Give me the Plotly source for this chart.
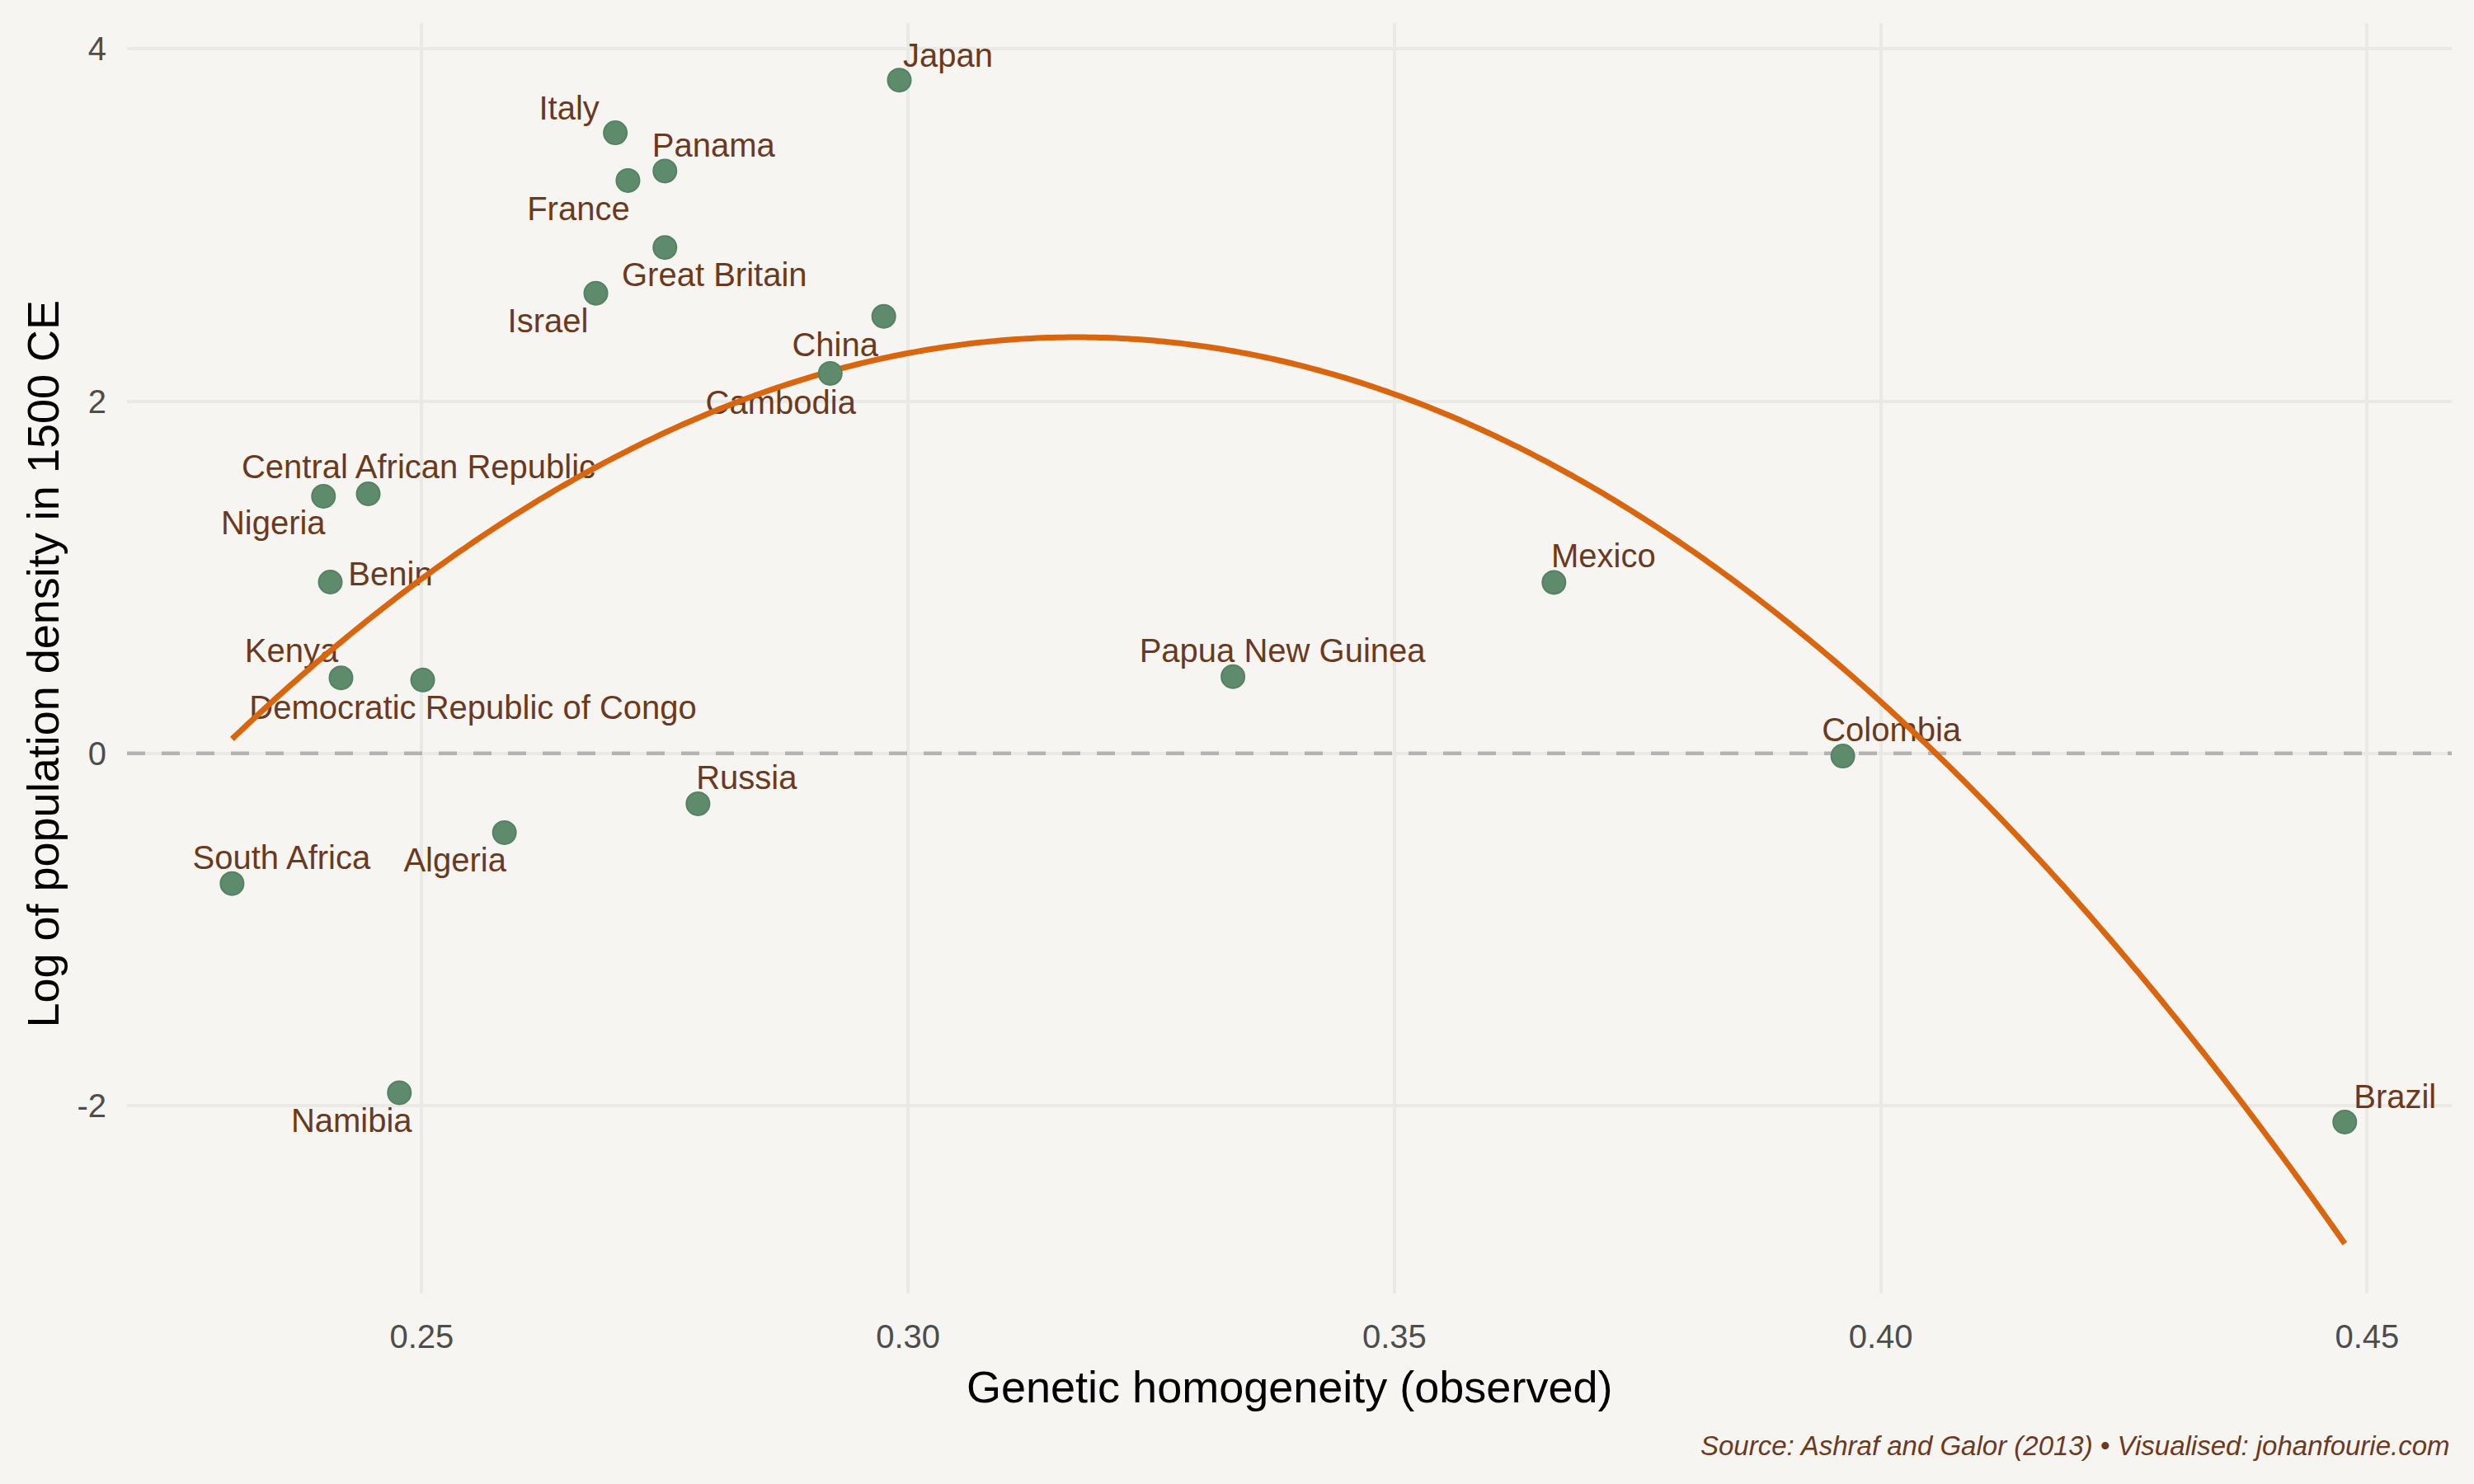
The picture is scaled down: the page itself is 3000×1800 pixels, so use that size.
import numpy as np
import plotly.graph_objects as go

# ---------------- data ----------------
countries = ["Japan", "Italy", "Panama", "France", "Great Britain", "Israel",
             "China", "Cambodia", "Central African Republic", "Nigeria", "Benin",
             "Kenya", "Democratic Republic of Congo", "Russia", "South Africa",
             "Algeria", "Namibia", "Papua New Guinea", "Mexico", "Colombia", "Brazil"]
homogeneity = [0.2991, 0.2699, 0.2750, 0.2712, 0.2750, 0.2679,
               0.2975, 0.2920, 0.2445, 0.2399, 0.2406,
               0.2417, 0.2501, 0.2784, 0.2305,
               0.2585, 0.2477, 0.3334, 0.3664, 0.3961, 0.4477]
log_density = [3.823, 3.524, 3.307, 3.253, 2.873, 2.613,
               2.482, 2.158, 1.474, 1.460, 0.973,
               0.429, 0.417, -0.286, -0.739,
               -0.450, -1.927, 0.436, 0.971, -0.015, -2.093]
x_ticks = [0.25, 0.30, 0.35, 0.40, 0.45]
x_tick_labels = ["0.25", "0.30", "0.35", "0.40", "0.45"]
y_ticks = [-2, 0, 2, 4]
y_tick_labels = ["-2", "0", "2", "4"]
reference_level = 0

# ---------------- layout constants ----------------
W, H = 3000, 1800
ML, MR, MT, MB = 154, 27, 28, 231
XR = [0.2197, 0.4587]
YR = [-3.067, 4.147]
BG = "#f6f5f1"
GRID = "#e9e9e6"
LABEL_COL = "#6b3a1e"
FONT = "Liberation Sans, Arial, Helvetica, sans-serif"

# label offsets in pixels (dx right, dy up) from each point
label_offsets = {
    "Japan": (59, 26), "Italy": (-56, 26), "Panama": (59, 27), "France": (-60, -38),
    "Great Britain": (60, -37), "Israel": (-58, -37), "China": (-59, -38),
    "Cambodia": (-60, -39), "Central African Republic": (61, 29), "Nigeria": (-61, -36),
    "Benin": (73, 6), "Kenya": (-60, 29), "Democratic Republic of Congo": (61, -37),
    "Russia": (59, 28), "South Africa": (60, 28), "Algeria": (-60, -37),
    "Namibia": (-58, -38), "Papua New Guinea": (60, 28), "Mexico": (60, 28),
    "Colombia": (59, 28), "Brazil": (61, 27),
}

pw = W - ML - MR
ph = H - MT - MB
xpp = (XR[1] - XR[0]) / pw
ypp = (YR[1] - YR[0]) / ph
lab_x = [hx + label_offsets[c][0] * xpp for c, hx in zip(countries, homogeneity)]
lab_y = [ly + label_offsets[c][1] * ypp for c, ly in zip(countries, log_density)]

# quadratic fit
coef = np.polyfit(homogeneity, log_density, 2)
xs = np.linspace(min(homogeneity), max(homogeneity), 400)
ys = np.polyval(coef, xs)

fig = go.Figure()
fig.add_trace(go.Scatter(x=XR, y=[reference_level, reference_level], mode="lines",
                         line=dict(color="#b3b3b3", width=4.5, dash="22px,20px"),
                         hoverinfo="skip"))
fig.add_trace(go.Scatter(x=lab_x, y=lab_y, mode="text", text=countries,
                         textposition="middle center",
                         textfont=dict(size=40, color=LABEL_COL, family=FONT),
                         hoverinfo="skip"))
fig.add_trace(go.Scatter(x=xs, y=ys, mode="lines",
                         line=dict(color="#d9660f", width=7, simplify=False),
                         hoverinfo="skip"))
fig.add_trace(go.Scatter(x=homogeneity, y=log_density, mode="markers",
                         marker=dict(size=28, color="rgb(94,139,108)",
                                     line=dict(color="rgb(84,130,99)", width=2))))

fig.update_layout(
    width=W, height=H, autosize=False,
    margin=dict(l=ML, r=MR, t=MT, b=MB),
    paper_bgcolor=BG, plot_bgcolor=BG, showlegend=False,
    font=dict(family=FONT),
    xaxis=dict(range=XR, tickvals=x_ticks, ticktext=x_tick_labels,
               showgrid=True, gridcolor=GRID, gridwidth=3.5, zeroline=False,
               showline=False, ticks="", ticklabelstandoff=25,
               tickfont=dict(size=40, color="#4d4d4d", family=FONT)),
    yaxis=dict(range=YR, tickvals=y_ticks, ticktext=y_tick_labels,
               showgrid=True, gridcolor=GRID, gridwidth=3.5, zeroline=False,
               showline=False, ticks="", ticklabelstandoff=24,
               tickfont=dict(size=40, color="#4d4d4d", family=FONT)),
)

fig.add_annotation(text="Genetic homogeneity (observed)", xref="paper", yref="paper",
                   x=0.5, y=-0.0733, xanchor="center", yanchor="middle", showarrow=False,
                   font=dict(size=54, color="#000000", family=FONT))
fig.add_annotation(text="Log of population density in 1500 CE", xref="paper", yref="paper",
                   x=-0.0362, y=0.496, xanchor="center", yanchor="middle", showarrow=False,
                   textangle=-90, font=dict(size=54, color="#000000", family=FONT))
fig.add_annotation(text="<i>Source: Ashraf and Galor (2013) • Visualised: johanfourie.com</i>",
                   xref="paper", yref="paper", x=1, y=-0.1198, xanchor="right",
                   yanchor="middle", showarrow=False,
                   font=dict(size=33, color=LABEL_COL, family=FONT))

fig.write_html("out.html")
